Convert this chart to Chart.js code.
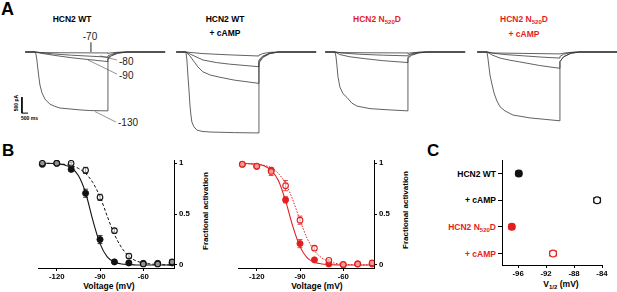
<!DOCTYPE html>
<html>
<head>
<meta charset="utf-8">
<title>HCN2 WT / N520D</title>
<script src="https://cdn.jsdelivr.net/npm/chart.js"></script>
<style>
  html, body { margin: 0; padding: 0; background: #fff; }
  body { width: 617px; height: 292px; position: relative; overflow: hidden; font-family: 'Liberation Sans', Arial, sans-serif; color: #000; }
  canvas { position: absolute; }
  .t { position: absolute; white-space: nowrap; line-height: 10px; }
  .b { font-weight: bold; }
  .red { color: #e41e1e; }
  .ctr { text-align: center; }
  .rgt { text-align: right; }
  .rot { transform: rotate(-90deg); transform-origin: center; }
  .letter { position: absolute; font-weight: bold; line-height: 1; }
  sub { font-size: 6px; vertical-align: -2px; line-height: 0; }
</style>
</head>
<body>
  <!-- panel letters -->
  <div class="letter" style="left:1px; top:0px; font-size:18px;">A</div>
  <div class="letter" style="left:2px; top:142px; font-size:17px;">B</div>
  <div class="letter" style="left:427px; top:142px; font-size:17px;">C</div>

  <!-- titles panel A -->
  <div class="t b ctr" style="left:12px; top:14px; width:120px; font-size:8.5px;">HCN2 WT</div>
  <div class="t b ctr" style="left:165px; top:14px; width:120px; font-size:8.5px;">HCN2 WT</div>
  <div class="t b ctr" style="left:165px; top:28px; width:120px; font-size:8.5px;">+ cAMP</div>
  <div class="t b ctr red" style="left:317px; top:14px; width:120px; font-size:8.5px;">HCN2 N<sub>520</sub>D</div>
  <div class="t b ctr red" style="left:464px; top:14px; width:120px; font-size:8.5px;">HCN2 N<sub>520</sub>D</div>
  <div class="t b ctr red" style="left:464px; top:29px; width:120px; font-size:8.5px;">+ cAMP</div>

  <!-- step voltage labels -->
  <div class="t ctr" style="left:75px; top:32px; width:30px; font-size:10px; color:#222;">-70</div>
  <div class="t" style="left:119px; top:57px; font-size:10px; color:#222;">-80</div>
  <div class="t" style="left:119px; top:71px; font-size:10px; color:#222;">-90</div>
  <div class="t" style="left:118px; top:118px; font-size:10px; color:#222;">-130</div>

  <!-- scale bar labels -->
  <div class="t b ctr rot" style="left:6px; top:100px; width:20px; font-size:5px; line-height:6px;">500 pA</div>
  <div class="t b" style="left:21px; top:115px; font-size:5px; line-height:6px;">500 ms</div>

  <!-- axis titles -->
  <div class="t b ctr rot" style="left:156px; top:206px; width:100px; font-size:8px;">Fractional activation</div>
  <div class="t b ctr rot" style="left:356px; top:205px; width:100px; font-size:8px;">Fractional activation</div>
  <div class="t b ctr" style="left:49px; top:281px; width:120px; font-size:8.5px;">Voltage (mV)</div>
  <div class="t b ctr" style="left:257px; top:281px; width:120px; font-size:8.5px;">Voltage (mV)</div>
  <div class="t b ctr" style="left:501px; top:279px; width:120px; font-size:8.5px;">V<sub>1/2</sub> (mV)</div>

  <!-- panel C group labels (placed from the y scale) -->
  <div class="t b rgt" id="g0" style="left:396px; width:100px; font-size:8.5px;">HCN2 WT</div>
  <div class="t b rgt" id="g1" style="left:396px; width:100px; font-size:8.5px;">+ cAMP</div>
  <div class="t b rgt red" id="g2" style="left:396px; width:100px; font-size:8.5px;">HCN2 N<sub>520</sub>D</div>
  <div class="t b rgt red" id="g3" style="left:396px; width:100px; font-size:8.5px;">+ cAMP</div>

  <canvas id="a1" width="160" height="102" style="left:10px; top:38px;"></canvas>
  <canvas id="a2" width="160" height="102" style="left:161px; top:38px;"></canvas>
  <canvas id="a3" width="160" height="102" style="left:310px; top:38px;"></canvas>
  <canvas id="a4" width="160" height="102" style="left:462px; top:38px;"></canvas>
  <canvas id="b1" width="170" height="142" style="left:30px; top:150px;"></canvas>
  <canvas id="b2" width="170" height="142" style="left:230px; top:150px;"></canvas>
  <canvas id="c1" width="132" height="142" style="left:480px; top:150px;"></canvas>

<script>
// ---- A: current traces, [time (s), current (nA)] ----
const wt70  = [[-0.8,0],[0,0],[0.5,-0.02],[6,-0.03],[6,-0.04],[6.4,-0.02],[7.2,0],[10.7,0]];
const wt80  = [[-0.8,0],[0,0],[0.5,-0.02],[1.5,-0.06],[3,-0.1],[4.5,-0.13],[6,-0.16],[6,-0.12],[6.3,-0.07],[6.8,-0.02],[7.6,0],[10.7,0]];
const wt90  = [[-0.8,0],[0,0],[0.5,-0.04],[1.5,-0.1],[3,-0.18],[4.5,-0.24],[6,-0.3],[6,-0.18],[6.3,-0.1],[6.8,-0.03],[7.6,0],[10.7,0]];
const wt130 = [[-0.8,0],[0,0],[0.08,-0.06],[0.16,-0.25],[0.25,-0.56],[0.33,-0.81],[0.41,-1.03],[0.58,-1.28],[0.82,-1.47],[1.23,-1.63],[1.64,-1.7],[2.05,-1.75],[2.88,-1.78],[3.7,-1.81],[4.52,-1.83],[6,-1.84],[6,-0.22],[6.3,-0.12],[6.8,-0.04],[7.6,0],[10.7,0]];

const wtCamp70  = [[-0.8,0],[0,0],[1.4,-0.05],[3.6,-0.09],[6,-0.125],[6,-0.1],[6.3,-0.05],[6.9,-0.01],[7.6,0],[10.7,0]];
const wtCamp80  = [[-0.8,0],[0,0],[0.49,-0.09],[1.4,-0.25],[2.5,-0.33],[3.6,-0.38],[6,-0.46],[6,-0.25],[6.3,-0.13],[6.9,-0.04],[7.6,0],[10.7,0]];
const wtCamp90  = [[-0.8,0],[0,0],[0.33,-0.125],[0.74,-0.34],[0.99,-0.47],[1.4,-0.62],[2,-0.72],[2.8,-0.79],[4,-0.88],[6,-0.98],[6,-0.35],[6.3,-0.18],[6.9,-0.05],[7.6,0],[10.7,0]];
const wtCamp130 = [[-0.8,0],[0,0],[0.08,-0.25],[0.16,-0.72],[0.25,-1.19],[0.33,-1.66],[0.41,-1.97],[0.49,-2.19],[0.66,-2.34],[0.9,-2.44],[1.31,-2.48],[1.97,-2.5],[4,-2.52],[6,-2.53],[6,-0.3],[6.3,-0.15],[6.9,-0.04],[7.6,0],[10.7,0]];

const n520d70  = [[-0.8,0],[0,0],[0.5,-0.02],[6,-0.03],[6,-0.04],[6.4,-0.02],[7.2,0],[10.7,0]];
const n520d80  = [[-0.8,0],[0,0],[0.5,-0.03],[2,-0.07],[4,-0.1],[6,-0.12],[6,-0.1],[6.3,-0.05],[6.9,-0.01],[7.6,0],[10.7,0]];
const n520d90  = [[-0.8,0],[0,0],[0.4,-0.08],[1.23,-0.15],[2.5,-0.21],[3.9,-0.27],[6,-0.33],[6,-0.16],[6.3,-0.08],[6.9,-0.02],[7.6,0],[10.7,0]];
const n520d130 = [[-0.8,0],[0,0],[0.08,-0.125],[0.16,-0.41],[0.25,-0.78],[0.41,-1.1],[0.66,-1.3],[0.99,-1.42],[1.4,-1.6],[1.81,-1.69],[2.88,-1.77],[4.52,-1.81],[6,-1.84],[6,-0.2],[6.3,-0.1],[6.9,-0.03],[7.6,0],[10.7,0]];

const n520dCamp70  = [[-0.8,0],[0,0],[0.5,-0.03],[6,-0.06],[6,-0.06],[6.4,-0.03],[7.2,0],[10.7,0]];
const n520dCamp80  = [[-0.8,0],[0,0],[0.5,-0.04],[1.5,-0.08],[3,-0.12],[4.5,-0.16],[6,-0.19],[6,-0.14],[6.3,-0.07],[6.9,-0.02],[7.6,0],[10.7,0]];
const n520dCamp90  = [[-0.8,0],[0,0],[0.41,-0.09],[1.07,-0.19],[1.8,-0.25],[2.7,-0.31],[4.3,-0.42],[6,-0.51],[6,-0.3],[6.3,-0.15],[6.9,-0.04],[7.6,0],[10.7,0]];
const n520dCamp130 = [[-0.8,0],[0,0],[0.08,-0.19],[0.16,-0.44],[0.25,-0.72],[0.39,-0.97],[0.58,-1.28],[0.82,-1.53],[1.07,-1.71],[1.48,-1.84],[2.14,-1.97],[3.53,-2.06],[6,-2.15],[6,-0.3],[6.3,-0.15],[6.9,-0.04],[7.6,0],[10.7,0]];

// scale bar 500 pA / 500 ms, and leader lines to the step labels (panel A, WT)
const scaleBar = [[-1.07,-1.41],[-1.07,-1.91],[-0.57,-1.91]];
const leader70  = [[4.6,0.3],[4.6,0]];
const leader80  = [[5.34,-0.12],[6.74,-0.25]];
const leader90  = [[4.36,-0.25],[6.74,-0.69]];
const leader130 = [[4.93,-1.86],[6.66,-2.19]];

// ---- B: activation curves ----
const voltages = [-130, -120, -110, -100, -90, -80, -70, -60, -50, -40];
const wtAct       = [0.99, 1.0, 0.94, 0.705, 0.25, 0.03, 0.02, 0.015, 0.015, 0.02];
const wtErr       = [0.01, 0.01, 0.02, 0.04, 0.04, 0.01, 0.01, 0.01, 0.01, 0.02];
const wtCampAct   = [1.0, 1.0, 1.0, 0.93, 0.665, 0.337, 0.088, 0.01, 0.01, 0.03];
const wtCampErr   = [0.01, 0.01, 0.01, 0.03, 0.03, 0.02, 0.02, 0.01, 0.01, 0.02];
const n520dAct     = [0.99, 0.97, 0.93, 0.64, 0.21, 0.05, 0.01, 0.0, 0.01, 0.01];
const n520dErr     = [0.01, 0.01, 0.02, 0.03, 0.04, 0.01, 0.01, 0.01, 0.01, 0.01];
const n520dCampAct = [0.99, 0.97, 0.92, 0.78, 0.44, 0.165, 0.045, 0.005, 0.01, 0.02];
const n520dCampErr = [0.01, 0.01, 0.04, 0.05, 0.04, 0.02, 0.01, 0.01, 0.01, 0.02];

// fitted curves
const fitV          = [-130, -125, -120, -115, -110, -105, -100, -95, -90, -85, -80, -75, -70, -65, -60, -55, -50, -40];
const wtFit         = [1.0, 1.0, 0.995, 0.985, 0.955, 0.88, 0.71, 0.44, 0.21, 0.08, 0.03, 0.01, 0.005, 0, 0, 0, 0, 0];
const wtCampFit     = [1.0, 0.998, 0.995, 0.99, 0.975, 0.95, 0.9, 0.81, 0.67, 0.48, 0.3, 0.17, 0.085, 0.04, 0.02, 0.01, 0.004, 0];
const n520dFit      = [0.998, 0.995, 0.99, 0.975, 0.93, 0.83, 0.63, 0.38, 0.18, 0.07, 0.027, 0.01, 0.004, 0.001, 0, 0, 0, 0];
const n520dCampFit  = [0.998, 0.995, 0.99, 0.98, 0.955, 0.9, 0.8, 0.64, 0.44, 0.26, 0.14, 0.07, 0.035, 0.015, 0.007, 0.003, 0, 0];

const voltTicks = [-120, -90, -60];
const actTicks = [0, 0.5, 1];

// ---- C: V1/2 ----
const groups = ['HCN2 WT', '+ cAMP', 'HCN2 N520D', '+ cAMP'];
const v12    = [-95.9, -84.7, -96.9, -91.0];
const v12Err = [0.4, 0.5, 0.4, 0.5];
const v12Ticks = [-96, -92, -88, -84];

const RED = '#e41e1e';
const groupColors = ['#111', '#111', RED, RED];
const groupFilled = [true, false, true, false];

Chart.defaults.font.family = "'Liberation Sans', Arial, sans-serif";
const tickFont = { weight: 'bold', size: 7.8 };

const xy = arr => arr.map(p => ({ x: p[0], y: p[1] }));
const pairs = (xs, ys) => xs.map((x, i) => ({ x: x, y: ys[i] }));

// error bars drawn under the markers
const errorBars = {
  id: 'errorBars',
  beforeDatasetsDraw(chart) {
    const ctx = chart.ctx, xs = chart.scales.x, ys = chart.scales.y;
    chart.data.datasets.forEach(ds => {
      if (!ds.errs) return;
      ctx.save();
      ctx.lineWidth = 0.8;
      ds.data.forEach((p, j) => {
        const e = ds.errs[j];
        ctx.strokeStyle = Array.isArray(ds.pointBorderColor) ? ds.pointBorderColor[j] : ds.pointBorderColor;
        ctx.beginPath();
        if (ds.errAxis === 'x') {
          const py = ys.getPixelForValue(p.y);
          const x0 = xs.getPixelForValue(p.x - e), x1 = xs.getPixelForValue(p.x + e);
          ctx.moveTo(x0, py); ctx.lineTo(x1, py);
          ctx.moveTo(x0, py - 3); ctx.lineTo(x0, py + 3);
          ctx.moveTo(x1, py - 3); ctx.lineTo(x1, py + 3);
        } else {
          const px = xs.getPixelForValue(p.x);
          const y0 = ys.getPixelForValue(p.y - e), y1 = ys.getPixelForValue(p.y + e);
          ctx.moveTo(px, y0); ctx.lineTo(px, y1);
          ctx.moveTo(px - 2.5, y0); ctx.lineTo(px + 2.5, y0);
          ctx.moveTo(px - 2.5, y1); ctx.lineTo(px + 2.5, y1);
        }
        ctx.stroke();
      });
      ctx.restore();
    });
  }
};

function traceChart(id, traces, extras) {
  const sets = traces.map(tr => ({
    data: xy(tr), borderColor: '#3a3a3a', borderWidth: 0.8, pointRadius: 0, tension: 0
  }));
  return new Chart(document.getElementById(id), {
    type: 'line',
    data: { datasets: sets.concat(extras || []) },
    options: {
      responsive: false, animation: false,
      layout: { padding: 0 },
      plugins: { legend: { display: false }, tooltip: { enabled: false } },
      scales: {
        x: { type: 'linear', display: false, min: -2.05, max: 11.1 },
        y: { type: 'linear', display: false, min: -2.75, max: 0.4375 }
      }
    }
  });
}

const thinLine = (pts, color, w) => ({ data: xy(pts), borderColor: color, borderWidth: w, pointRadius: 0, tension: 0 });

traceChart('a1', [wt70, wt80, wt90, wt130], [
  thinLine(scaleBar, '#000', 1),
  thinLine(leader70, '#666', 0.7),
  thinLine(leader80, '#666', 0.7),
  thinLine(leader90, '#666', 0.7),
  thinLine(leader130, '#666', 0.7)
]);
traceChart('a2', [wtCamp70, wtCamp80, wtCamp90, wtCamp130]);
traceChart('a3', [n520d70, n520d80, n520d90, n520d130]);
traceChart('a4', [n520dCamp70, n520dCamp80, n520dCamp90, n520dCamp130]);

function actChart(id, color, act, err, campAct, campErr, fit, campFit, campDash) {
  return new Chart(document.getElementById(id), {
    type: 'line',
    data: {
      datasets: [
        { data: pairs(voltages, campAct), errs: campErr, showLine: false, order: 0,
          pointRadius: 2.8, pointBorderWidth: 1.1, pointBorderColor: color,
          pointBackgroundColor: 'rgba(255,255,255,0.55)' },
        { data: pairs(voltages, act), errs: err, showLine: false, order: 1,
          pointRadius: 3.1, pointBorderWidth: 0.8, pointBorderColor: color,
          pointBackgroundColor: color },
        { data: pairs(fitV, fit), borderColor: color, borderWidth: 1.1, pointRadius: 0,
          cubicInterpolationMode: 'monotone', order: 5 },
        { data: pairs(fitV, campFit), borderColor: color, borderWidth: 1, borderDash: campDash,
          pointRadius: 0, cubicInterpolationMode: 'monotone', order: 6 }
      ]
    },
    options: {
      responsive: false, animation: false,
      layout: { padding: { left: 8, top: 10, right: 0, bottom: 0 } },
      plugins: { legend: { display: false }, tooltip: { enabled: false } },
      scales: {
        x: {
          type: 'linear', position: 'bottom', min: -133, max: -38.7,
          afterBuildTicks: s => { s.ticks = voltTicks.map(v => ({ value: v })); },
          afterFit: s => { s.height = 24; },
          grid: { drawOnChartArea: false, tickLength: 3, color: '#000' },
          border: { color: '#000', width: 1 },
          ticks: { font: tickFont, color: '#000', padding: 1, maxRotation: 0 }
        },
        y: {
          type: 'linear', position: 'right', min: -0.03, max: 1.032,
          afterBuildTicks: s => { s.ticks = actTicks.map(v => ({ value: v })); },
          afterFit: s => { s.width = 26; },
          grid: { drawOnChartArea: false, tickLength: 3, color: '#000' },
          border: { color: '#000', width: 1 },
          ticks: { font: tickFont, color: '#000', padding: 2, callback: v => String(v) }
        }
      }
    },
    plugins: [errorBars]
  });
}

actChart('b1', '#111', wtAct, wtErr, wtCampAct, wtCampErr, wtFit, wtCampFit, [3, 2]);
actChart('b2', RED, n520dAct, n520dErr, n520dCampAct, n520dCampErr, n520dFit, n520dCampFit, [1.5, 1.5]);

const chartC = new Chart(document.getElementById('c1'), {
  type: 'line',
  data: {
    datasets: [{
      data: v12.map((v, i) => ({ x: v, y: i })),
      errs: v12Err, errAxis: 'x', showLine: false,
      pointRadius: 3.4, pointBorderWidth: 1.2,
      pointBorderColor: groupColors,
      pointBackgroundColor: groupColors.map((c, i) => groupFilled[i] ? c : '#fff')
    }]
  },
  options: {
    responsive: false, animation: false,
    layout: { padding: { left: 0, top: 10, right: 10, bottom: 0 } },
    plugins: { legend: { display: false }, tooltip: { enabled: false } },
    scales: {
      x: {
        type: 'linear', position: 'bottom', min: -98.3, max: -84,
        afterBuildTicks: s => { s.ticks = v12Ticks.map(v => ({ value: v })); },
        afterFit: s => { s.height = 27; },
        grid: { drawOnChartArea: false, tickLength: 3, color: '#000' },
        border: { color: '#000', width: 1 },
        ticks: { font: tickFont, color: '#000', padding: 1, maxRotation: 0 }
      },
      y: {
        type: 'linear', position: 'left', reverse: true, min: -0.5, max: 3.43,
        afterBuildTicks: s => { s.ticks = groups.map((g, i) => ({ value: i })); },
        afterFit: s => { s.width = 22; },
        grid: { drawOnChartArea: false, tickLength: 4, color: '#000' },
        border: { color: '#000', width: 1 },
        ticks: { callback: () => '' }
      }
    }
  },
  plugins: [errorBars]
});

// place group labels of panel C at the category positions of its y scale
groups.forEach((g, i) => {
  const el = document.getElementById('g' + i);
  el.style.top = (150 + chartC.scales.y.getPixelForValue(i) - 5) + 'px';
});
</script>
</body>
</html>
